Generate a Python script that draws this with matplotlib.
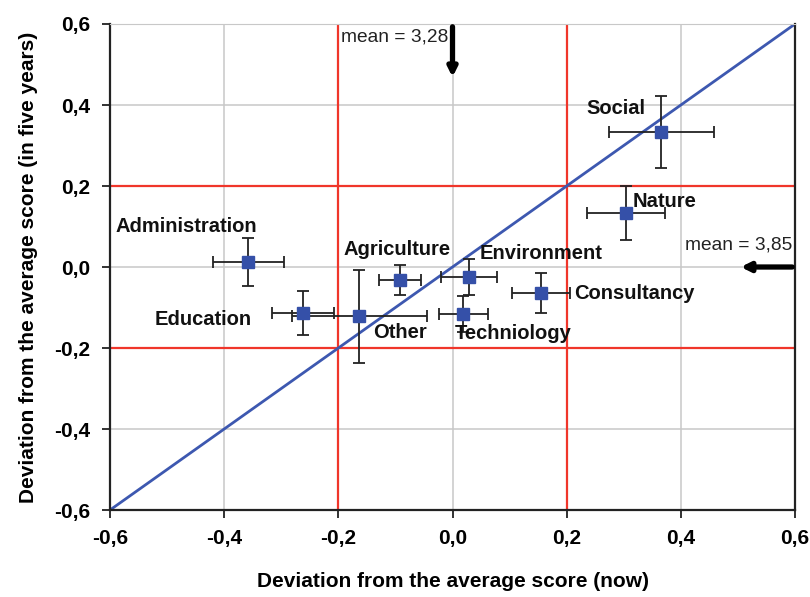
import numpy as np
import matplotlib.pyplot as plt
from matplotlib.ticker import FuncFormatter

plt.rcParams['font.family'] = ['Liberation Sans', 'DejaVu Sans']

# data
sectores = ['Administration', 'Education', 'Other', 'Agriculture', 'Environment',
            'Techniology', 'Consultancy', 'Nature', 'Social']
ahora = [-0.358, -0.262, -0.163, -0.092, 0.029, 0.019, 0.155, 0.304, 0.366]
futuro = [0.012, -0.113, -0.122, -0.032, -0.024, -0.116, -0.065, 0.134, 0.333]
err_x = [0.062, 0.055, 0.119, 0.036, 0.049, 0.043, 0.050, 0.069, 0.092]
err_y = [0.059, 0.054, 0.114, 0.036, 0.045, 0.045, 0.049, 0.067, 0.089]
# where each label text starts (left, middle)
etiq_x = [-0.591, -0.521, -0.139, -0.191, 0.048, 0.004, 0.213, 0.315, 0.235]
etiq_y = [0.101, -0.129, -0.162, 0.042, 0.034, -0.164, -0.065, 0.161, 0.391]

limites = [-0.2, 0.2]
media_ahora = 'mean = 3,28'
media_futuro = 'mean = 3,85'

fig = plt.figure(figsize=(8.1, 5.97), dpi=100)
ax = fig.add_axes([0.1358, 0.1457, 0.8457, 0.8141])

ax.set_xlim(-0.6, 0.6)
ax.set_ylim(-0.6, 0.6)
ticks = np.arange(-0.6, 0.61, 0.2)
ax.set_xticks(ticks)
ax.set_yticks(ticks)
fmt = FuncFormatter(lambda v, p: ('%.1f' % v).replace('.', ',').replace('-0,0', '0,0'))
ax.xaxis.set_major_formatter(fmt)
ax.yaxis.set_major_formatter(fmt)
ax.grid(True, color='#c8c8c8', lw=1.1, zorder=0)
ax.set_axisbelow(True)

for l in limites:
    ax.axvline(l, color='#f0362a', lw=1.6, zorder=1)
    ax.axhline(l, color='#f0362a', lw=1.6, zorder=1)

ax.plot([-0.6, 0.6], [-0.6, 0.6], color='#3d58b0', lw=2, zorder=2)

ax.errorbar(ahora, futuro, xerr=err_x, yerr=err_y, fmt='none', ecolor='#222222',
            elinewidth=1.3, capsize=4.5, capthick=1.3, zorder=3)
ax.plot(ahora, futuro, 's', color='#3550a8', ms=9, zorder=4)

for nombre, tx, ty in zip(sectores, etiq_x, etiq_y):
    ax.text(tx, ty, nombre, fontsize=14.5, fontweight='bold', color='#111111',
            ha='left', va='center', zorder=5)

# mean arrows
ax.annotate('', xy=(0.0, 0.462), xytext=(0.0, 0.6),
            arrowprops=dict(arrowstyle='-|>', color='black', lw=3.8, mutation_scale=13),
            annotation_clip=False, zorder=6)
ax.annotate('', xy=(0.5, 0.0), xytext=(0.6, 0.0),
            arrowprops=dict(arrowstyle='-|>', color='black', lw=3.8, mutation_scale=13),
            annotation_clip=False, zorder=6)
ax.text(-0.196, 0.568, media_ahora, fontsize=13.8, color='#222222', ha='left', va='center')
ax.text(0.407, 0.054, media_futuro, fontsize=13.8, color='#222222', ha='left', va='center')

for s in ['left', 'bottom', 'right']:
    ax.spines[s].set_color('#222222')
    ax.spines[s].set_linewidth(1.6)
ax.spines['top'].set_color('#c8c8c8')
ax.tick_params(direction='out', length=6, width=1.3, color='#222222', labelsize=15)
for lab in ax.get_xticklabels() + ax.get_yticklabels():
    lab.set_fontweight('bold')
ax.tick_params(axis='x', pad=8)
ax.tick_params(axis='y', pad=8)

ax.set_xlabel('Deviation from the average score (now)', fontsize=15, fontweight='bold', labelpad=17)
ax.set_ylabel('Deviation from the average score (in five years)', fontsize=15, fontweight='bold', labelpad=12)

plt.savefig('out.png', dpi=100)
